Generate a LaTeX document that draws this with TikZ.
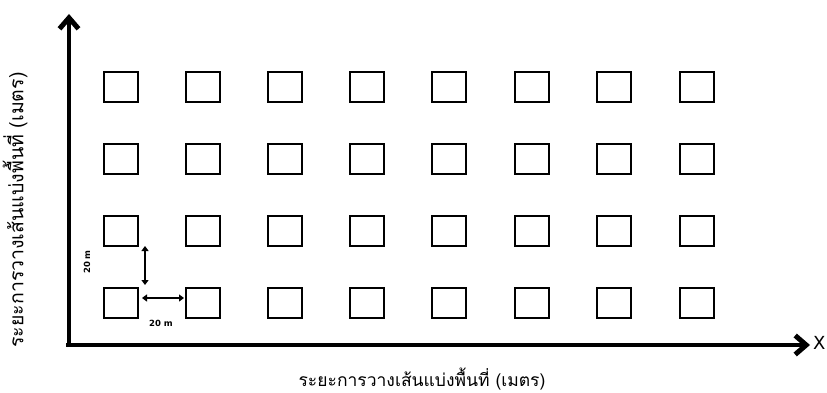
\documentclass[tikz,border=0pt]{standalone}
\usepackage{fontspec}
\newfontfamily\thaifont[Script=Thai]{Loma}
\setmainfont{DejaVu Sans}
\usetikzlibrary{arrows.meta}
\begin{document}
\begin{tikzpicture}[x=1pt,y=-1pt,
  plot/.style={draw=black,line width=1.8pt,minimum width=34pt,minimum height=30pt,inner sep=0pt,anchor=north west},
  axis/.style={line width=4pt,-{Straight Barb[length=11pt,width=19pt,line width=5pt]}},
  gap/.style={line width=1.8pt,{Triangle[length=5pt,width=7pt]}-{Triangle[length=5pt,width=7pt]}},
  lbl/.style={font=\thaifont\fontsize{17.5}{20}\selectfont,inner sep=0pt}]
\useasboundingbox (0,0) rectangle (827,393);
\coordinate (Ybot) at (69,347);
\coordinate (Ytop) at (69,14);
\coordinate (Xend) at (810,345);
\coordinate (Ostart) at (66,345);
\draw[axis] (Ybot) -- (Ytop);
\draw[axis] (Ostart) -- (Xend);
\node[font=\fontsize{18}{20}\selectfont,anchor=west,inner sep=0pt] (X) at (813,343) {X};
\foreach \c [count=\i] in {103,185,267,349,431,514,596,679}{
  \foreach \r [count=\j] in {71,143,215,287}{
    \node[plot] (s\i\j) at (\c,\r) {};
  }
}
\coordinate (va) at (145,246);
\coordinate (vb) at (145,285);
\coordinate (ha) at (142,298);
\coordinate (hb) at (184,298);
\draw[gap] (va) -- (vb);
\draw[gap] (ha) -- (hb);
\node[font=\fontsize{8.5}{10}\selectfont\bfseries,inner sep=0pt] (h20) at (161,323) {20 m};
\node[font=\fontsize{8.5}{10}\selectfont\bfseries,inner sep=0pt,rotate=90] (v20) at (87,262) {20 m};
\node[lbl] (xl) at (422,379) {ระยะการวางเส้นแบ่งพื้นที่ (เมตร)};
\node[lbl,font=\thaifont\fontsize{19.5}{22}\selectfont,rotate=90] (yl) at (15,210) {ระยะการวางเส้นแบ่งพื้นที่ (เมตร)};
\end{tikzpicture}
\end{document}
